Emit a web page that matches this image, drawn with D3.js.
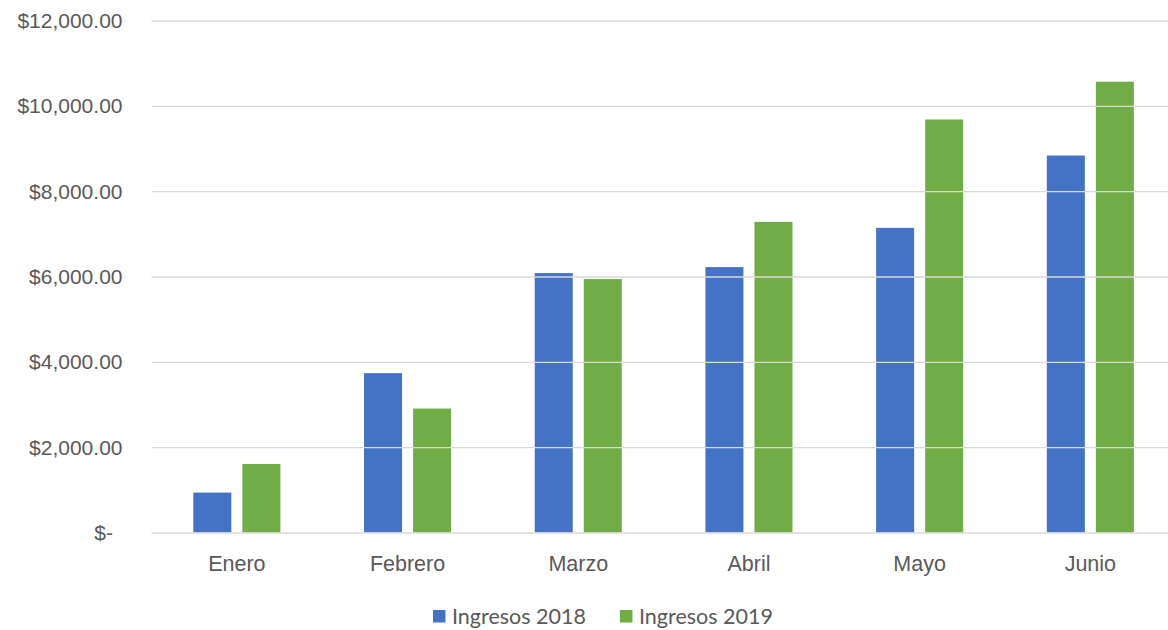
<!DOCTYPE html>
<html>
<head>
<meta charset="utf-8">
<script src="https://cdn.jsdelivr.net/npm/d3@7"></script>
<style>
    body { margin: 0; background: #ffffff; }
    svg { display: block; font-family: Lato, "Open Sans", sans-serif; }
</style>
</head>
<body>
<svg></svg>
<script>
// data
let months = ['Enero', 'Febrero', 'Marzo', 'Abril', 'Mayo', 'Junio']
let seriesNames = ['Ingresos 2018', 'Ingresos 2019']
let ingresos2018 = [935, 3735, 6080, 6220, 7140, 8835]
let ingresos2019 = [1605, 2905, 5940, 7280, 9680, 10565]
let yTicks = [0, 2000, 4000, 6000, 8000, 10000, 12000]
let colors = ['#4472C4', '#70AD47']

let width = 1168
let height = 630

let svg = d3.select('svg')

let xScale
let xInner
let yScale

let drawCanvas = () => {
    svg.attr('width', width)
    svg.attr('height', height)
}

let generateScales = () => {
    // plot area runs a bit past the right edge, like the cropped original
    xScale = d3.scaleBand()
                .domain(months)
                .range([151.5, 1175.7])
                .paddingInner(0.49)
                .paddingOuter(0.245)

    xInner = d3.scaleBand()
                .domain(seriesNames)
                .range([0, xScale.bandwidth()])
                .paddingInner(0.2245)

    yScale = d3.scaleLinear()
                .domain([0, 12000])
                .range([532.5, 20.5])
}

let generateAxes = () => {
    let fmt = d3.format('$,.2f')
    let yAxis = d3.axisLeft(yScale)
                    .tickValues(yTicks)
                    .tickSize(-(1175.7 - 151.5))
                    .tickPadding(29)
                    .tickFormat((d) => d === 0 ? '$-' : fmt(d))
    let gy = svg.append('g')
        .attr('id', 'y-axis')
        .attr('transform', 'translate(151.5,0)')
        .call(yAxis)
    gy.select('.domain').remove()
    gy.selectAll('line')
        .attr('stroke', '#d9d9d9')
        .attr('stroke-width', 1.3)
    gy.selectAll('text')
        .attr('fill', '#595959')
        .style('font-size', '21px')
        .attr('dy', '0.34em')
    // accounting format leaves room after the dash
    gy.selectAll('text')
        .filter((d) => d === 0)
        .attr('x', -38.5)

    let xAxis = d3.axisBottom(xScale)
                    .tickSize(0)
                    .tickPadding(0)
    let gx = svg.append('g')
        .attr('id', 'x-axis')
        .attr('transform', 'translate(0,532.5)')
        .call(xAxis)
    gx.select('.domain').remove()
    gx.selectAll('text')
        .attr('fill', '#595959')
        .style('font-size', '21.5px')
        .attr('dy', null)
        .attr('y', 38.5)
}

let drawBars = () => {
    let rows = months.map((m, i) => {
        return { month: m, values: [ingresos2018[i], ingresos2019[i]] }
    })
    let groups = svg.selectAll('g.month')
        .data(rows)
        .enter()
        .append('g')
        .attr('class', 'month')
        .attr('transform', (item) => 'translate(' + xScale(item.month) + ',0)')

    groups.selectAll('rect')
        .data((item) => item.values.map((v, j) => ({ name: seriesNames[j], value: v, color: colors[j] })))
        .enter()
        .append('rect')
        .attr('x', (item) => xInner(item.name))
        .attr('width', xInner.bandwidth())
        .attr('y', (item) => yScale(item.value))
        .attr('height', (item) => yScale(0) - yScale(item.value))
        .attr('fill', (item) => item.color)
}

let drawLegend = () => {
    let legend = svg.append('g')
        .attr('id', 'legend')
        .attr('transform', 'translate(433,0)')
    let x = 0
    seriesNames.forEach((name, j) => {
        legend.append('rect')
            .attr('x', x)
            .attr('y', 610)
            .attr('width', 12.5)
            .attr('height', 12.5)
            .attr('fill', colors[j])
        let t = legend.append('text')
            .attr('x', x + 19)
            .attr('y', 624)
            .attr('fill', '#595959')
            .style('font-size', '21.5px')
            .text(name)
        x += 19 + t.node().getComputedTextLength() + 34
    })
}

drawCanvas()
generateScales()
drawBars()
generateAxes()
drawLegend()
</script>
</body>
</html>
